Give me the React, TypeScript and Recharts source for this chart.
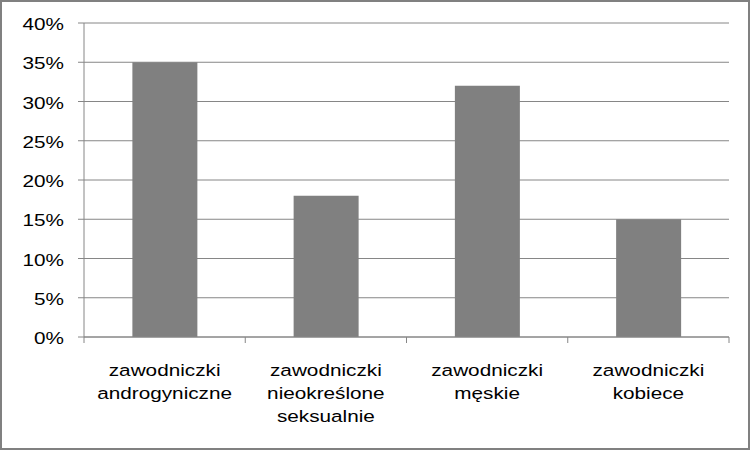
import { Bar, BarChart, CartesianGrid, XAxis, YAxis } from 'recharts';

const categories = [
  'zawodniczki\nandrogyniczne',
  'zawodniczki\nnieokreślone\nseksualnie',
  'zawodniczki\nmęskie',
  'zawodniczki\nkobiece',
];
const shares = [0.35, 0.18, 0.32, 0.15];
const yTicks = [0, 0.05, 0.1, 0.15, 0.2, 0.25, 0.3, 0.35, 0.4];

const data = categories.map((name, i) => ({ name, value: shares[i] }));

const W = 752;
const H = 451;
const MARGIN = { top: 23, right: 23, left: 0, bottom: 14 };
const Y_AXIS_W = 84;
const X_AXIS_H = 100;
const PLOT_W = W - MARGIN.left - MARGIN.right - Y_AXIS_W;

const FONT = '"Liberation Sans", Arial, sans-serif';
const GRID = '#868686';
const BAR = '#808080';
// the reference text is stretched sideways a bit
const STRETCH = 1.22;

const pct = (v: number) => `${Math.round(v * 100)}%`;

function YTick({ x, y, payload }: { x?: number; y?: number; payload?: { value: number } }) {
  return (
    <g transform={`translate(${x},${y}) scale(${STRETCH},1)`}>
      <text x={0} y={7} textAnchor="end" fontSize={17} fontFamily={FONT} fill="#000">
        {pct(payload?.value ?? 0)}
      </text>
    </g>
  );
}

function XTick({
  x = 0,
  y = 0,
  payload,
  index = 0,
}: {
  x?: number;
  y?: number;
  payload?: { value: string };
  index?: number;
}) {
  const half = PLOT_W / categories.length / 2;
  const lines = String(payload?.value ?? '').split('\n');
  const last = index === categories.length - 1;
  return (
    <g>
      <line x1={x - half} x2={x - half} y1={y} y2={y + 6} stroke={GRID} />
      {last && <line x1={x + half} x2={x + half} y1={y} y2={y + 6} stroke={GRID} />}
      <g transform={`translate(${x},${y}) scale(${STRETCH},1)`}>
        {lines.map((l, i) => (
          <text
            key={i}
            x={0}
            y={39 + i * 22.8}
            textAnchor="middle"
            fontSize={17}
            fontFamily={FONT}
            fill="#000"
          >
            {l}
          </text>
        ))}
      </g>
    </g>
  );
}

export default function App() {
  return (
    <div style={{ position: 'absolute', left: 0, top: 0, width: W, height: H, background: '#fff' }}>
      <BarChart width={W} height={H} data={data} margin={MARGIN} barCategoryGap="30%">
        <CartesianGrid vertical={false} stroke={GRID} />
        <XAxis
          dataKey="name"
          height={X_AXIS_H}
          axisLine={{ stroke: GRID }}
          tickLine={false}
          tickSize={0}
          tickMargin={0}
          interval={0}
          tick={<XTick />}
        />
        <YAxis
          width={Y_AXIS_W}
          domain={[0, 0.4]}
          ticks={yTicks}
          axisLine={{ stroke: GRID }}
          tickLine={{ stroke: GRID }}
          tickSize={6}
          tickMargin={14}
          tick={<YTick />}
        />
        <Bar dataKey="value" fill={BAR} isAnimationActive={false} />
      </BarChart>
      <div
        style={{
          position: 'absolute',
          left: 0,
          top: 0,
          width: 750,
          height: 450,
          border: '2px solid #808080',
          boxSizing: 'border-box',
          pointerEvents: 'none',
        }}
      />
    </div>
  );
}
